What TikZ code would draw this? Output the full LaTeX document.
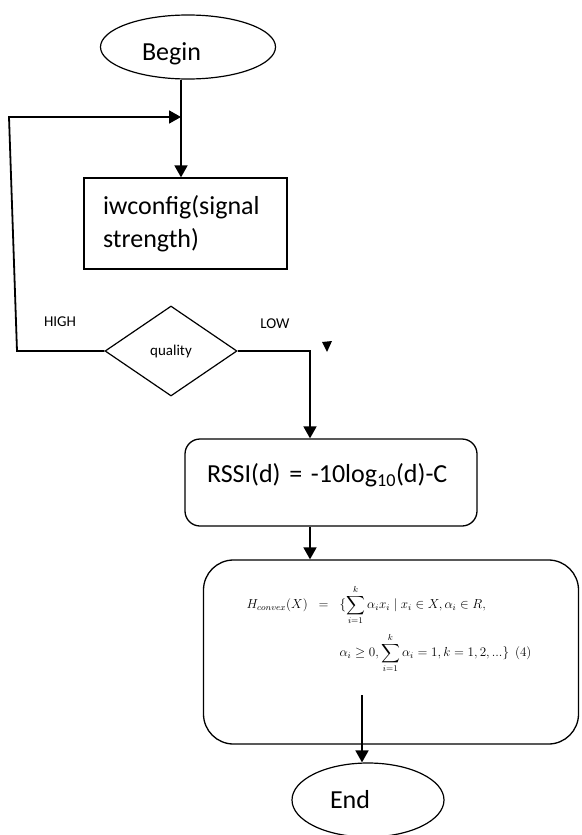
\documentclass[tikz,border=0pt]{standalone}
\usepackage{amsmath}
\usepackage{amssymb}
\usepackage{graphicx}
\usepackage{fontspec}
\setmainfont{Carlito}
\usetikzlibrary{shapes.geometric,arrows.meta}

\newcommand\flowfont{\fontsize{26}{33}\selectfont}
\newcommand\tagfont{\fontsize{15}{18}\selectfont}

\tikzset{
    flowline/.style={line width=1.8pt,-{Triangle[width=13pt,length=12pt]}},
    plainline/.style={line width=1.4pt},
    terminal/.style={ellipse,draw,line width=1.2pt,inner sep=0pt,font=\flowfont,align=left},
    procbox/.style={rectangle,draw,line width=1.3pt,inner sep=0pt,font=\flowfont,align=left},
    roundbox/.style={rectangle,rounded corners=#1,draw,line width=1.3pt,inner sep=0pt},
    decision/.style={diamond,draw,line width=1.2pt,inner sep=0pt,font=\tagfont},
    tag/.style={font=\tagfont,inner sep=0pt}
}

\begin{document}
\begin{tikzpicture}[x=1pt,y=-1pt]
                      \useasboundingbox (0,0) rectangle (581,835);

                      \node (begin)   [terminal,minimum width=175pt,minimum height=64pt,
                                       text width=92pt,text height=30pt,text depth=4pt] at (188,47) {Begin};
                      \node (config)  [procbox,minimum width=203pt,minimum height=91pt,
                                       text width=165pt] at (185.5,223.5) {iwconfig(signal\\strength)};
                      \node (quality) [decision,minimum width=132pt,minimum height=90pt] at (171,351) {quality};
                      \node (rssi)    [roundbox=15pt,minimum width=292pt,minimum height=87pt,font=\flowfont,
                                       text width=248pt,align=left,text height=18pt,text depth=18pt] at (331,482.5)
                                      {RSSI(d) = -10log\textsubscript{10}(d)-C};
                      \node (hull)    [roundbox=30pt,minimum width=375pt,minimum height=184pt] at (391,652) {};
                      \node (convex)  [inner sep=0pt,font=\fontsize{12}{14}\selectfont] at (389,629)
                                      {\scalebox{1.09}{$\begin{array}{rcl}
                                          H_{convex}(X) & = & \{\displaystyle\sum_{i=1}^{k}\alpha_i x_i \mid x_i\in X,\alpha_i\in R,\\[18pt]
                                                        &   & \alpha_i\geq 0,\displaystyle\sum_{i=1}^{k}\alpha_i=1,k=1,2,...\}\ \ (4)
                                      \end{array}$}};
                      \node (end)     [terminal,minimum width=152pt,minimum height=74pt,
                                       text width=76pt] at (368,800) {End};

                      \node (high) [tag,anchor=base] at (60,326) {HIGH};
                      \node (low)  [tag,anchor=base] at (275,328) {LOW};

                      \coordinate (join)     at (181,117);
                      \coordinate (upleft)   at (9,117);
                      \coordinate (lowleft)  at (17,351);
                      \coordinate (lowturn)  at (310,351);
                      \coordinate (endstart) at (362,695);

                      \draw[plainline] (begin.south -| join) -- (join);
                      \path (join)                  edge[flowline] (config.north -| join)
                            (rssi.south -| lowturn) edge[flowline] (hull.north -| lowturn)
                            (endstart)              edge[flowline] (end.north -| endstart);
                      \draw[flowline] (quality.west) -- (lowleft) -- (upleft) -- (join);
                      \draw[flowline] (quality.east) -- (lowturn) -- (rssi.north -| lowturn);

                      \fill (322,342) -- (332,341) -- (327,352) -- cycle;
                  \end{tikzpicture}
\end{document}
